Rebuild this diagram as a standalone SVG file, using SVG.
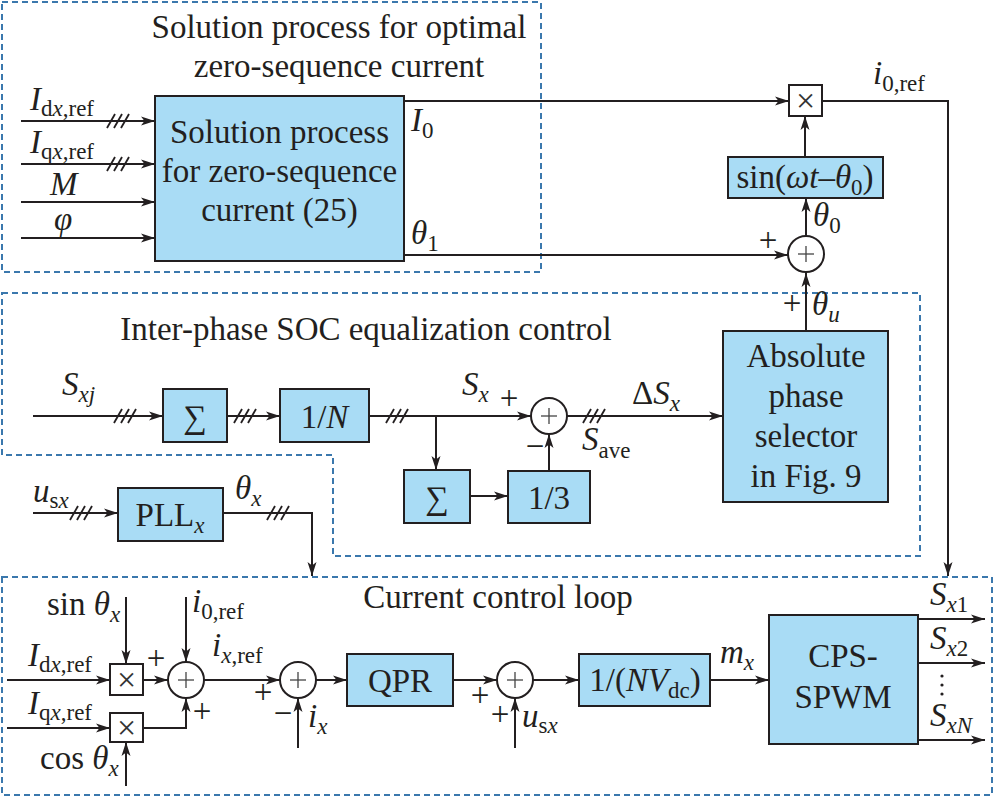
<svg xmlns="http://www.w3.org/2000/svg" xmlns:xlink="http://www.w3.org/1999/xlink" width="994" height="798" viewBox="0 0 994 798">
<style>
.t{font-family:'Liberation Serif','DejaVu Serif',serif;font-size:33px;fill:#231f20}
.m{text-anchor:middle}
.s{font-size:23px}
.i{font-style:italic}
.blk{fill:#a9dcf5;stroke:#231f20;stroke-width:2}
.wb{fill:#fff;stroke:#231f20;stroke-width:2}
.ln{fill:none;stroke:#231f20;stroke-width:2}
.ar{fill:none;stroke:#231f20;stroke-width:2;marker-end:url(#a)}
.dash{fill:none;stroke:#3b78ad;stroke-width:2;stroke-dasharray:6 4}
.cr{stroke:#444;stroke-width:1.3}
.hs{stroke:#231f20;stroke-width:1.8}
.x{font-family:'Liberation Serif','DejaVu Serif',serif;font-size:34px;fill:#333;text-anchor:middle}
</style>
<defs>
<marker id="a" viewBox="0 0 14 10" refX="14" refY="5" markerWidth="14" markerHeight="10" markerUnits="userSpaceOnUse" orient="auto"><path d="M0,0.5 L14,5 L0,9.5 L3.5,5 z" fill="#231f20"/></marker>
<g id="h"><line class="hs" x1="-11" y1="7" x2="-3" y2="-7"/><line class="hs" x1="-4" y1="7" x2="4" y2="-7"/><line class="hs" x1="3" y1="7" x2="11" y2="-7"/></g>
<g id="sum"><circle r="18" fill="#fff" stroke="#231f20" stroke-width="2"/><line class="cr" x1="-8" y1="0" x2="8" y2="0"/><line class="cr" x1="0" y1="-8" x2="0" y2="8"/></g>
</defs>

<!-- dashed regions -->
<g id="regions">
<rect class="dash" x="2" y="2" width="539" height="270"/>
<path class="dash" d="M2,293 H920 V556 H333 V455 H2 Z"/>
<rect class="dash" x="2" y="577" width="990" height="218"/>
</g>

<!-- titles -->
<g id="titles">
<text class="t m" x="339" y="38">Solution process for optimal</text>
<text class="t m" x="339" y="77">zero-sequence current</text>
<text class="t m" x="366" y="340">Inter-phase SOC equalization control</text>
<text class="t m" x="498" y="608">Current control loop</text>
</g>

<!-- connectors -->
<g id="connectors">
<line class="ar" x1="21" y1="121" x2="155" y2="121"/>
<line class="ar" x1="21" y1="164" x2="155" y2="164"/>
<line class="ar" x1="21" y1="202" x2="155" y2="202"/>
<line class="ar" x1="21" y1="238" x2="155" y2="238"/>
<use xlink:href="#h" x="118" y="121"/>
<use xlink:href="#h" x="118" y="164"/>
<line class="ar" x1="404" y1="101" x2="789" y2="101"/>
<polyline class="ar" points="822,101 948,101 948,576"/>
<line class="ar" x1="805" y1="157" x2="805" y2="116"/>
<line class="ar" x1="806" y1="236" x2="806" y2="198"/>
<line class="ar" x1="404" y1="255" x2="788" y2="255"/>
<line class="ar" x1="806" y1="331" x2="806" y2="273"/>

<line class="ar" x1="33" y1="416" x2="163" y2="416"/>
<use xlink:href="#h" x="125" y="416"/>
<line class="ar" x1="227" y1="416" x2="280" y2="416"/>
<use xlink:href="#h" x="245" y="416"/>
<line class="ar" x1="369" y1="416" x2="531" y2="416"/>
<use xlink:href="#h" x="397" y="416"/>
<line class="ar" x1="436" y1="416" x2="436" y2="470"/>
<line class="ar" x1="567" y1="416" x2="723" y2="416"/>
<use xlink:href="#h" x="594" y="416"/>
<line class="ar" x1="549" y1="471" x2="549" y2="434"/>
<line class="ar" x1="470" y1="496" x2="508" y2="496"/>

<line class="ar" x1="33" y1="513" x2="118" y2="513"/>
<use xlink:href="#h" x="81" y="513"/>
<polyline class="ar" points="223,513 312,513 312,576"/>
<use xlink:href="#h" x="278" y="513"/>

<line class="ar" x1="126" y1="597" x2="126" y2="664"/>
<line class="ar" x1="7" y1="680" x2="110" y2="680"/>
<line class="ar" x1="143" y1="680" x2="168" y2="680"/>
<line class="ar" x1="186" y1="597" x2="186" y2="662"/>
<line class="ar" x1="7" y1="728" x2="110" y2="728"/>
<polyline class="ar" points="143,728 186,728 186,698"/>
<line class="ar" x1="126" y1="786" x2="126" y2="742"/>
<line class="ar" x1="204" y1="680" x2="280" y2="680"/>
<line class="ar" x1="298" y1="748" x2="298" y2="698"/>
<line class="ar" x1="316" y1="680" x2="347" y2="680"/>
<line class="ar" x1="453" y1="680" x2="497" y2="680"/>
<line class="ar" x1="515" y1="748" x2="515" y2="698"/>
<line class="ar" x1="533" y1="680" x2="579" y2="680"/>
<line class="ar" x1="710" y1="680" x2="769" y2="680"/>
<line class="ar" x1="918" y1="619" x2="985" y2="619"/>
<line class="ar" x1="918" y1="663" x2="985" y2="663"/>
<line class="ar" x1="918" y1="740" x2="985" y2="740"/>
</g>

<!-- nodes -->
<g id="solver">
<rect class="blk" x="155" y="96" width="249" height="165"/>
<text class="t m" x="279.5" y="143">Solution process</text>
<text class="t m" x="279.5" y="182">for zero-sequence</text>
<text class="t m" x="279.5" y="221">current (25)</text>
</g>
<g id="mult-top">
<rect class="wb" x="789" y="85" width="33" height="31"/>
<text class="x" x="805.5" y="112">×</text>
</g>
<g id="sin-block">
<rect class="blk" x="728" y="157" width="155" height="41"/>
<text class="t m" x="805" y="188">sin(<tspan class="i">ωt</tspan>–<tspan class="i">θ</tspan><tspan class="s" dy="7">0</tspan><tspan dy="-7">)</tspan></text>
</g>
<g id="sum-theta"><use xlink:href="#sum" x="806" y="254"/></g>
<g id="sigma1">
<rect class="blk" x="163" y="389" width="64" height="53"/>
<text class="t m" x="195" y="428">∑</text>
</g>
<g id="inv-n">
<rect class="blk" x="280" y="389" width="89" height="53"/>
<text class="t m" x="324.5" y="428">1/<tspan class="i">N</tspan></text>
</g>
<g id="sum-soc"><use xlink:href="#sum" x="549" y="416"/></g>
<g id="sigma2">
<rect class="blk" x="404" y="470" width="66" height="53"/>
<text class="t m" x="437" y="509">∑</text>
</g>
<g id="third">
<rect class="blk" x="508" y="471" width="82" height="52"/>
<text class="t m" x="549" y="509">1/3</text>
</g>
<g id="selector">
<rect class="blk" x="723" y="331" width="165" height="171"/>
<text class="t m" x="806" y="367">Absolute</text>
<text class="t m" x="806" y="407">phase</text>
<text class="t m" x="806" y="447">selector</text>
<text class="t m" x="806" y="487">in Fig. 9</text>
</g>
<g id="pll">
<rect class="blk" x="118" y="488" width="105" height="53"/>
<text class="t m" x="170" y="526">PLL<tspan class="s i" dy="7">x</tspan></text>
</g>
<g id="mult-d">
<rect class="wb" x="110" y="664" width="33" height="31"/>
<text class="x" x="126.5" y="691">×</text>
</g>
<g id="mult-q">
<rect class="wb" x="110" y="713" width="33" height="29"/>
<text class="x" x="126.5" y="739">×</text>
</g>
<g id="sum-ref"><use xlink:href="#sum" x="186" y="680"/></g>
<g id="sum-err"><use xlink:href="#sum" x="298" y="680"/></g>
<g id="qpr">
<rect class="blk" x="347" y="654" width="106" height="52"/>
<text class="t m" x="400" y="692">QPR</text>
</g>
<g id="sum-ff"><use xlink:href="#sum" x="515" y="680"/></g>
<g id="norm">
<rect class="blk" x="579" y="654" width="131" height="52"/>
<text class="t m" x="645" y="691">1/(<tspan class="i">NV</tspan><tspan class="s" dy="7">dc</tspan><tspan dy="-7">)</tspan></text>
</g>
<g id="cps">
<rect class="blk" x="769" y="615" width="149" height="129"/>
<text class="t m" x="843" y="667">CPS-</text>
<text class="t m" x="843" y="708">SPWM</text>
</g>

<!-- labels -->
<g id="labels">
<text class="t" x="30" y="110"><tspan class="i">I</tspan><tspan class="s" dy="6">d<tspan class="i">x</tspan>,ref</tspan></text>
<text class="t" x="30" y="153"><tspan class="i">I</tspan><tspan class="s" dy="6">q<tspan class="i">x</tspan>,ref</tspan></text>
<text class="t i" x="50" y="195">M</text>
<text class="t i" x="54" y="230">φ</text>
<text class="t" x="411" y="131"><tspan class="i">I</tspan><tspan class="s" dy="7">0</tspan></text>
<text class="t" x="411" y="244"><tspan class="i">θ</tspan><tspan class="s" dy="7">1</tspan></text>
<text class="t" x="873" y="84"><tspan class="i">i</tspan><tspan class="s" dy="7">0,ref</tspan></text>
<text class="t" x="813" y="226"><tspan class="i">θ</tspan><tspan class="s" dy="7">0</tspan></text>
<text class="t m" x="768" y="251">+</text>
<text class="t m" x="792" y="314">+</text>
<text class="t" x="812" y="315"><tspan class="i">θ</tspan><tspan class="s i" dy="7">u</tspan></text>

<text class="t" x="62" y="395"><tspan class="i">S</tspan><tspan class="s i" dy="7">xj</tspan></text>
<text class="t" x="462" y="395"><tspan class="i">S</tspan><tspan class="s i" dy="7">x</tspan></text>
<text class="t m" x="509" y="409">+</text>
<text class="t" x="632" y="404">Δ<tspan class="i">S</tspan><tspan class="s i" dy="7">x</tspan></text>
<text class="t m" x="535" y="457">−</text>
<text class="t" x="582" y="450"><tspan class="i">S</tspan><tspan class="s" dy="8">ave</tspan></text>

<text class="t" x="33" y="502"><tspan class="i">u</tspan><tspan class="s" dy="6">s<tspan class="i">x</tspan></tspan></text>
<text class="t" x="235" y="499"><tspan class="i">θ</tspan><tspan class="s i" dy="7">x</tspan></text>

<text class="t" x="47" y="615">sin <tspan class="i">θ</tspan><tspan class="s i" dy="7">x</tspan></text>
<text class="t" x="192" y="612"><tspan class="i">i</tspan><tspan class="s" dy="7">0,ref</tspan></text>
<text class="t" x="28" y="666"><tspan class="i">I</tspan><tspan class="s" dy="6">d<tspan class="i">x</tspan>,ref</tspan></text>
<text class="t" x="28" y="714"><tspan class="i">I</tspan><tspan class="s" dy="6">q<tspan class="i">x</tspan>,ref</tspan></text>
<text class="t m" x="156" y="669">+</text>
<text class="t m" x="202" y="722">+</text>
<text class="t" x="40" y="769">cos <tspan class="i">θ</tspan><tspan class="s i" dy="7">x</tspan></text>
<text class="t" x="212" y="656"><tspan class="i">i</tspan><tspan class="s" dy="7"><tspan class="i">x</tspan>,ref</tspan></text>
<text class="t m" x="263" y="703">+</text>
<text class="t m" x="283" y="724">−</text>
<text class="t" x="308" y="727"><tspan class="i">i</tspan><tspan class="s i" dy="7">x</tspan></text>
<text class="t m" x="480" y="706">+</text>
<text class="t m" x="500" y="725">+</text>
<text class="t" x="522" y="727"><tspan class="i">u</tspan><tspan class="s" dy="6">s<tspan class="i">x</tspan></tspan></text>
<text class="t" x="720" y="663"><tspan class="i">m</tspan><tspan class="s i" dy="7">x</tspan></text>
<text class="t" x="930" y="605"><tspan class="i">S</tspan><tspan class="s" dy="7"><tspan class="i">x</tspan>1</tspan></text>
<text class="t" x="930" y="649"><tspan class="i">S</tspan><tspan class="s" dy="7"><tspan class="i">x</tspan>2</tspan></text>
<text class="t" x="930" y="726"><tspan class="i">S</tspan><tspan class="s i" dy="7">xN</tspan></text>
<circle cx="942" cy="676" r="1.6" fill="#231f20"/>
<circle cx="942" cy="685" r="1.6" fill="#231f20"/>
<circle cx="942" cy="694" r="1.6" fill="#231f20"/>
</g>
</svg>
